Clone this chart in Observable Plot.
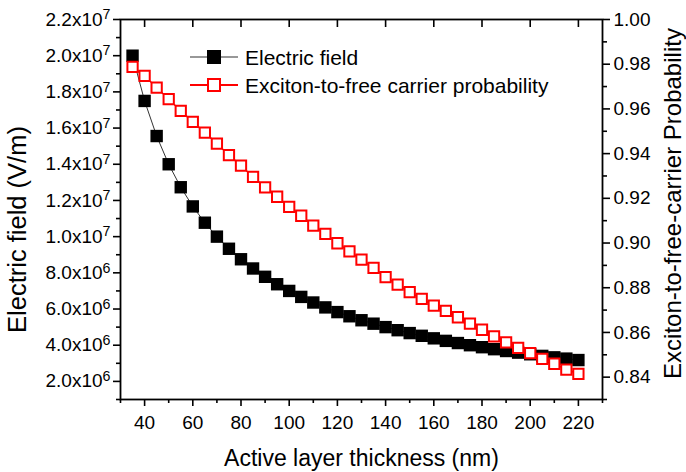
<!DOCTYPE html>
<html><head><meta charset="utf-8">
<script src="https://cdn.jsdelivr.net/npm/d3@7"></script>
<script src="https://cdn.jsdelivr.net/npm/@observablehq/plot@0.6"></script>
<style>
body{margin:0;background:#fff;}
#wrap{position:relative;width:686px;height:472px;font-family:"Liberation Sans",Arial,sans-serif;}
#legend{position:absolute;left:186px;top:43px;font-size:21px;color:#000;line-height:1;}
.row{display:flex;align-items:center;height:28px;white-space:nowrap;}
.row svg{width:56px;height:28px;margin-right:3px;flex:none}
g[aria-label="x-axis label"] text{font-size:23px}
</style></head>
<body><div id="wrap"></div>
<script>
// Active layer thickness (nm)
const thickness = [35,40,45,50,55,60,65,70,75,80,85,90,95,100,105,110,115,120,125,130,135,140,145,150,155,160,165,170,175,180,185,190,195,200,205,210,215,220];
// Electric field (V/m)
const electricField = [2.0e7,1.75e7,1.556e7,1.40e7,1.273e7,1.167e7,1.077e7,1.0e7,9.33e6,8.75e6,8.24e6,7.78e6,7.37e6,7.0e6,6.67e6,6.36e6,6.09e6,5.83e6,5.6e6,5.38e6,5.19e6,5.0e6,4.83e6,4.67e6,4.52e6,4.38e6,4.24e6,4.12e6,4.0e6,3.89e6,3.78e6,3.68e6,3.59e6,3.5e6,3.41e6,3.33e6,3.26e6,3.18e6];
// Exciton-to-free carrier probability
const probability = [0.9788,0.9748,0.9695,0.9644,0.9591,0.9542,0.9494,0.9445,0.9393,0.9346,0.9296,0.9249,0.9207,0.9162,0.9122,0.9078,0.9041,0.8999,0.8963,0.8926,0.8889,0.8847,0.8814,0.8780,0.8750,0.8720,0.8696,0.8668,0.8639,0.8612,0.8582,0.8556,0.8531,0.8507,0.8482,0.8460,0.8434,0.8415];

const xDomain = [30, 230];
const fieldDomain = [1e6, 2.2e7];
const probDomain = [0.83, 1.00];
const xMajorTicks = [40,60,80,100,120,140,160,180,200,220];
const xMinorTicks = [30,50,70,90,110,130,150,170,190,210,230];
const fieldMajorTicks = [2e6,4e6,6e6,8e6,1e7,1.2e7,1.4e7,1.6e7,1.8e7,2.0e7,2.2e7];
const fieldMinorTicks = [1e6,3e6,5e6,7e6,9e6,1.1e7,1.3e7,1.5e7,1.7e7,1.9e7,2.1e7];
const probMajorTicks = [0.84,0.86,0.88,0.90,0.92,0.94,0.96,0.98,1.00];
const probMinorTicks = [0.83,0.85,0.87,0.89,0.91,0.93,0.95,0.97,0.99];

const seriesNames = ["Electric field", "Exciton-to-free carrier probability"];
const xTitle = "Active layer thickness (nm)";
const leftTitle = "Electric field (V/m)";
const rightTitle = "Exciton-to-free-carrier Probability";

// map the right-hand (probability) axis onto the left-hand scale
const toLeft = p => fieldDomain[0] + (p - probDomain[0]) / (probDomain[1] - probDomain[0]) * (fieldDomain[1] - fieldDomain[0]);
const fromLeft = v => probDomain[0] + (v - fieldDomain[0]) / (fieldDomain[1] - fieldDomain[0]) * (probDomain[1] - probDomain[0]);

const fieldData = thickness.map((t, i) => ({t, v: electricField[i]}));
const probData = thickness.map((t, i) => ({t, v: toLeft(probability[i])}));

const sciFmt = v => {
  const e = Math.floor(Math.log10(v) + 1e-9);
  return `${(v / 10 ** e).toFixed(1)}x10^${e}`;
};

const tickStyle = {strokeWidth: 1.6, stroke: "#000"};

const chart = Plot.plot({
  width: 686,
  height: 472,
  marginLeft: 120,
  marginRight: 84,
  marginTop: 19,
  marginBottom: 73,
  style: {fontFamily: "'Liberation Sans', Arial, sans-serif", fontSize: "19px", background: "white", color: "#000", overflow: "visible"},
  x: {domain: xDomain},
  y: {domain: fieldDomain},
  marks: [
    // bottom axis
    Plot.axisX(xMinorTicks, {anchor: "bottom", tickSize: 4, tickFormat: () => "", label: null, ...tickStyle}),
    Plot.axisX(xMajorTicks, {anchor: "bottom", tickSize: 7, tickPadding: 9, tickFormat: d => `${d}`, label: xTitle, labelAnchor: "center", labelArrow: "none", labelOffset: 66, ...tickStyle}),
    // top axis (inward major ticks)
    Plot.axisX(xMajorTicks, {anchor: "top", tickSize: -7, tickFormat: () => "", label: null, ...tickStyle}),
    // left axis
    Plot.axisY(fieldMinorTicks, {anchor: "left", tickSize: 4, tickFormat: () => "", label: null, ...tickStyle}),
    Plot.axisY(fieldMajorTicks, {anchor: "left", tickSize: 7, tickPadding: 3, tickFormat: sciFmt, label: null, ...tickStyle}),
    Plot.text([leftTitle], {frameAnchor: "left", rotate: -90, dx: -113, dy: 20, lineAnchor: "top", textAnchor: "middle", fontSize: 25.5, fill: "#000"}),
    // right axis (probability)
    Plot.axisY(probMinorTicks.map(toLeft), {anchor: "right", tickSize: 4, tickFormat: () => "", label: null, ...tickStyle}),
    Plot.axisY(probMajorTicks.map(toLeft), {anchor: "right", tickSize: 7, tickPadding: 4, tickFormat: v => fromLeft(v).toFixed(2), label: null, ...tickStyle}),
    Plot.text([rightTitle], {frameAnchor: "right", rotate: -90, dx: 78, dy: -6, lineAnchor: "bottom", textAnchor: "middle", fontSize: 24, fill: "#000"}),
    Plot.frame({stroke: "#000", strokeWidth: 1.8}),
    // electric field series
    Plot.line(fieldData, {x: "t", y: "v", stroke: "#333", strokeWidth: 1}),
    Plot.dot(fieldData, {x: "t", y: "v", symbol: "square", r: 7, fill: "#000", stroke: "none"}),
    // probability series
    Plot.line(probData, {x: "t", y: "v", stroke: "#ff0000", strokeWidth: 1.5}),
    Plot.dot(probData, {x: "t", y: "v", symbol: "square", r: 5.8, fill: "white", stroke: "#ff0000", strokeWidth: 2})
  ]
});

// superscript exponents in tick labels
const ns = "http://www.w3.org/2000/svg";
chart.querySelectorAll("text").forEach(t => {
  const m = (t.textContent || "").match(/^(.*)\^(\d+)$/);
  if (!m) return;
  t.textContent = "";
  const a = document.createElementNS(ns, "tspan");
  a.textContent = m[1];
  const b = document.createElementNS(ns, "tspan");
  b.textContent = m[2];
  b.setAttribute("font-size", "0.75em");
  b.setAttribute("dy", "-0.45em");
  t.append(a, b);
});

const wrap = document.getElementById("wrap");
wrap.appendChild(chart);

// legend
const legend = document.createElement("div");
legend.id = "legend";
const swatches = [
  `<svg viewBox="0 0 56 28"><line x1="4" y1="14" x2="52" y2="14" stroke="#333" stroke-width="1.2"/><rect x="21" y="7" width="14" height="14" fill="#000"/></svg>`,
  `<svg viewBox="0 0 56 28"><line x1="4" y1="14" x2="52" y2="14" stroke="#ff0000" stroke-width="2"/><rect x="22" y="8" width="12" height="12" fill="#fff" stroke="#ff0000" stroke-width="2"/></svg>`
];
seriesNames.forEach((name, i) => {
  const row = document.createElement("div");
  row.className = "row";
  row.innerHTML = swatches[i];
  const span = document.createElement("span");
  span.textContent = name;
  row.appendChild(span);
  legend.appendChild(row);
});
wrap.appendChild(legend);
</script>
</body></html>
